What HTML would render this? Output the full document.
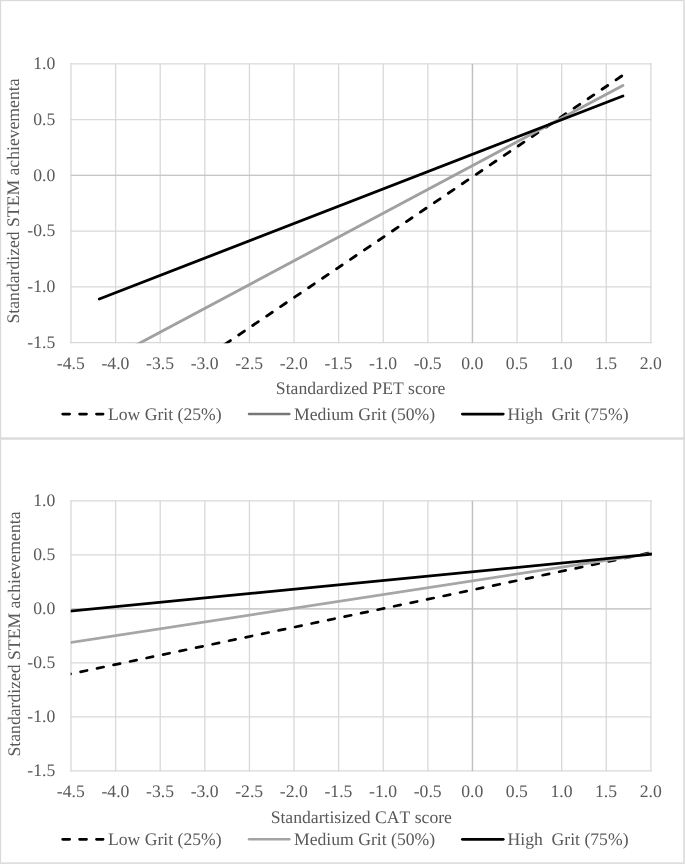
<!DOCTYPE html>
<html><head><meta charset="utf-8"><title>Grit moderation charts</title>
<style>
html,body{margin:0;padding:0;background:#fff;}
svg{display:block;will-change:transform;filter:grayscale(1);}
text{font-family:"Liberation Serif", serif;font-size:17.65px;fill:#595959;text-rendering:geometricPrecision;font-kerning:none;}
</style></head><body>
<svg width="685" height="864" viewBox="0 0 685 864">
<defs>
<clipPath id="c1"><rect x="70.7" y="63.9" width="580.90" height="279.40"/></clipPath>
<clipPath id="c2"><rect x="70.7" y="500.9" width="581.20" height="270.60"/></clipPath>
</defs>
<rect x="0" y="0" width="685" height="864" fill="#fff"/>
<rect x="0" y="0" width="685" height="1.2" fill="#dadada"/>
<rect x="0" y="0" width="1.15" height="864" fill="#d9d9d9"/>
<rect x="683.1" y="0" width="1.9" height="864" fill="#e0e0e0"/>
<rect x="0" y="862.3" width="685" height="1.7" fill="#dedede"/>
<rect x="0" y="437.4" width="685" height="2.3" fill="#dadada"/>
<line x1="71.00" y1="63.90" x2="71.00" y2="342.70" stroke="#d9d9d9" stroke-width="1.3" stroke-linecap="square"/>
<line x1="115.61" y1="63.90" x2="115.61" y2="342.70" stroke="#d9d9d9" stroke-width="1.3" stroke-linecap="square"/>
<line x1="160.22" y1="63.90" x2="160.22" y2="342.70" stroke="#d9d9d9" stroke-width="1.3" stroke-linecap="square"/>
<line x1="204.82" y1="63.90" x2="204.82" y2="342.70" stroke="#d9d9d9" stroke-width="1.3" stroke-linecap="square"/>
<line x1="249.43" y1="63.90" x2="249.43" y2="342.70" stroke="#d9d9d9" stroke-width="1.3" stroke-linecap="square"/>
<line x1="294.04" y1="63.90" x2="294.04" y2="342.70" stroke="#d9d9d9" stroke-width="1.3" stroke-linecap="square"/>
<line x1="338.65" y1="63.90" x2="338.65" y2="342.70" stroke="#d9d9d9" stroke-width="1.3" stroke-linecap="square"/>
<line x1="383.25" y1="63.90" x2="383.25" y2="342.70" stroke="#d9d9d9" stroke-width="1.3" stroke-linecap="square"/>
<line x1="427.86" y1="63.90" x2="427.86" y2="342.70" stroke="#d9d9d9" stroke-width="1.3" stroke-linecap="square"/>
<line x1="472.47" y1="63.90" x2="472.47" y2="342.70" stroke="#d9d9d9" stroke-width="1.3" stroke-linecap="square"/>
<line x1="517.08" y1="63.90" x2="517.08" y2="342.70" stroke="#d9d9d9" stroke-width="1.3" stroke-linecap="square"/>
<line x1="561.68" y1="63.90" x2="561.68" y2="342.70" stroke="#d9d9d9" stroke-width="1.3" stroke-linecap="square"/>
<line x1="606.29" y1="63.90" x2="606.29" y2="342.70" stroke="#d9d9d9" stroke-width="1.3" stroke-linecap="square"/>
<line x1="650.90" y1="63.90" x2="650.90" y2="342.70" stroke="#d9d9d9" stroke-width="1.3" stroke-linecap="square"/>
<line x1="71.00" y1="63.90" x2="650.90" y2="63.90" stroke="#d9d9d9" stroke-width="1.3" stroke-linecap="square"/>
<line x1="71.00" y1="119.66" x2="650.90" y2="119.66" stroke="#d9d9d9" stroke-width="1.3" stroke-linecap="square"/>
<line x1="71.00" y1="175.42" x2="650.90" y2="175.42" stroke="#d9d9d9" stroke-width="1.3" stroke-linecap="square"/>
<line x1="71.00" y1="231.18" x2="650.90" y2="231.18" stroke="#d9d9d9" stroke-width="1.3" stroke-linecap="square"/>
<line x1="71.00" y1="286.94" x2="650.90" y2="286.94" stroke="#d9d9d9" stroke-width="1.3" stroke-linecap="square"/>
<line x1="71.00" y1="342.70" x2="650.90" y2="342.70" stroke="#d9d9d9" stroke-width="1.3" stroke-linecap="square"/>
<line x1="472.47" y1="63.90" x2="472.47" y2="342.70" stroke="#bfbfbf" stroke-width="1.3"/>
<line x1="71.00" y1="175.42" x2="650.90" y2="175.42" stroke="#c6c6c6" stroke-width="1.3"/>
<text x="55.30" y="69.00" text-anchor="end">1.0</text>
<text x="55.30" y="124.76" text-anchor="end">0.5</text>
<text x="55.30" y="180.52" text-anchor="end">0.0</text>
<text x="55.30" y="236.28" text-anchor="end">-0.5</text>
<text x="55.30" y="292.04" text-anchor="end">-1.0</text>
<text x="55.30" y="347.80" text-anchor="end">-1.5</text>
<text x="70.80" y="368.60" text-anchor="middle">-4.5</text>
<text x="115.41" y="368.60" text-anchor="middle">-4.0</text>
<text x="160.02" y="368.60" text-anchor="middle">-3.5</text>
<text x="204.62" y="368.60" text-anchor="middle">-3.0</text>
<text x="249.23" y="368.60" text-anchor="middle">-2.5</text>
<text x="293.84" y="368.60" text-anchor="middle">-2.0</text>
<text x="338.45" y="368.60" text-anchor="middle">-1.5</text>
<text x="383.05" y="368.60" text-anchor="middle">-1.0</text>
<text x="427.66" y="368.60" text-anchor="middle">-0.5</text>
<text x="472.27" y="368.60" text-anchor="middle">0.0</text>
<text x="516.88" y="368.60" text-anchor="middle">0.5</text>
<text x="561.48" y="368.60" text-anchor="middle">1.0</text>
<text x="606.09" y="368.60" text-anchor="middle">1.5</text>
<text x="650.70" y="368.60" text-anchor="middle">2.0</text>
<text x="360.60" y="394.10" text-anchor="middle">Standardized PET score</text>
<text transform="translate(19.25,201.00) rotate(-90)" text-anchor="middle">Standardized STEM achievementa</text>
<g clip-path="url(#c1)" fill="none" stroke-width="2.85" stroke-linecap="round">
<path d="M621.72 76.00L210.83 353.80" stroke="#000" stroke-dasharray="6.85 10.02"/>
<path d="M122.25 352.41L622.90 85.40" stroke="#a0a0a0"/>
<path d="M99.30 299.00L622.90 96.00" stroke="#000"/>
</g>
<path d="M62.75 414.1H103.00" stroke="#000" stroke-width="2.9" stroke-linecap="round" stroke-dasharray="6.80 10.10" fill="none"/>
<text x="108.0" y="420.4">Low Grit (25%)</text>
<path d="M249 414.1H289.3" stroke="#777777" stroke-width="2.50" stroke-linecap="round" fill="none"/>
<text x="294.0" y="420.4">Medium Grit (50%)</text>
<path d="M462.4 414.1H503.2" stroke="#000" stroke-width="2.9" stroke-linecap="round" fill="none"/>
<text x="507.5" y="420.4" xml:space="preserve">High  Grit (75%)</text>
<line x1="71.00" y1="500.90" x2="71.00" y2="770.90" stroke="#d9d9d9" stroke-width="1.3" stroke-linecap="square"/>
<line x1="115.61" y1="500.90" x2="115.61" y2="770.90" stroke="#d9d9d9" stroke-width="1.3" stroke-linecap="square"/>
<line x1="160.22" y1="500.90" x2="160.22" y2="770.90" stroke="#d9d9d9" stroke-width="1.3" stroke-linecap="square"/>
<line x1="204.82" y1="500.90" x2="204.82" y2="770.90" stroke="#d9d9d9" stroke-width="1.3" stroke-linecap="square"/>
<line x1="249.43" y1="500.90" x2="249.43" y2="770.90" stroke="#d9d9d9" stroke-width="1.3" stroke-linecap="square"/>
<line x1="294.04" y1="500.90" x2="294.04" y2="770.90" stroke="#d9d9d9" stroke-width="1.3" stroke-linecap="square"/>
<line x1="338.65" y1="500.90" x2="338.65" y2="770.90" stroke="#d9d9d9" stroke-width="1.3" stroke-linecap="square"/>
<line x1="383.25" y1="500.90" x2="383.25" y2="770.90" stroke="#d9d9d9" stroke-width="1.3" stroke-linecap="square"/>
<line x1="427.86" y1="500.90" x2="427.86" y2="770.90" stroke="#d9d9d9" stroke-width="1.3" stroke-linecap="square"/>
<line x1="472.47" y1="500.90" x2="472.47" y2="770.90" stroke="#d9d9d9" stroke-width="1.3" stroke-linecap="square"/>
<line x1="517.08" y1="500.90" x2="517.08" y2="770.90" stroke="#d9d9d9" stroke-width="1.3" stroke-linecap="square"/>
<line x1="561.68" y1="500.90" x2="561.68" y2="770.90" stroke="#d9d9d9" stroke-width="1.3" stroke-linecap="square"/>
<line x1="606.29" y1="500.90" x2="606.29" y2="770.90" stroke="#d9d9d9" stroke-width="1.3" stroke-linecap="square"/>
<line x1="650.90" y1="500.90" x2="650.90" y2="770.90" stroke="#d9d9d9" stroke-width="1.3" stroke-linecap="square"/>
<line x1="71.00" y1="500.90" x2="650.90" y2="500.90" stroke="#d9d9d9" stroke-width="1.3" stroke-linecap="square"/>
<line x1="71.00" y1="554.90" x2="650.90" y2="554.90" stroke="#d9d9d9" stroke-width="1.3" stroke-linecap="square"/>
<line x1="71.00" y1="608.90" x2="650.90" y2="608.90" stroke="#d9d9d9" stroke-width="1.3" stroke-linecap="square"/>
<line x1="71.00" y1="662.90" x2="650.90" y2="662.90" stroke="#d9d9d9" stroke-width="1.3" stroke-linecap="square"/>
<line x1="71.00" y1="716.90" x2="650.90" y2="716.90" stroke="#d9d9d9" stroke-width="1.3" stroke-linecap="square"/>
<line x1="71.00" y1="770.90" x2="650.90" y2="770.90" stroke="#d9d9d9" stroke-width="1.3" stroke-linecap="square"/>
<line x1="472.47" y1="500.90" x2="472.47" y2="770.90" stroke="#bfbfbf" stroke-width="1.3"/>
<line x1="71.00" y1="608.90" x2="650.90" y2="608.90" stroke="#c6c6c6" stroke-width="1.3"/>
<text x="55.30" y="505.50" text-anchor="end">1.0</text>
<text x="55.30" y="559.50" text-anchor="end">0.5</text>
<text x="55.30" y="613.50" text-anchor="end">0.0</text>
<text x="55.30" y="667.50" text-anchor="end">-0.5</text>
<text x="55.30" y="721.50" text-anchor="end">-1.0</text>
<text x="55.30" y="775.50" text-anchor="end">-1.5</text>
<text x="70.80" y="796.80" text-anchor="middle">-4.5</text>
<text x="115.41" y="796.80" text-anchor="middle">-4.0</text>
<text x="160.02" y="796.80" text-anchor="middle">-3.5</text>
<text x="204.62" y="796.80" text-anchor="middle">-3.0</text>
<text x="249.23" y="796.80" text-anchor="middle">-2.5</text>
<text x="293.84" y="796.80" text-anchor="middle">-2.0</text>
<text x="338.45" y="796.80" text-anchor="middle">-1.5</text>
<text x="383.05" y="796.80" text-anchor="middle">-1.0</text>
<text x="427.66" y="796.80" text-anchor="middle">-0.5</text>
<text x="472.27" y="796.80" text-anchor="middle">0.0</text>
<text x="516.88" y="796.80" text-anchor="middle">0.5</text>
<text x="561.48" y="796.80" text-anchor="middle">1.0</text>
<text x="606.09" y="796.80" text-anchor="middle">1.5</text>
<text x="650.70" y="796.80" text-anchor="middle">2.0</text>
<text x="361.30" y="822.60" text-anchor="middle">Standartisized CAT score</text>
<text transform="translate(19.60,634.00) rotate(-90)" text-anchor="middle">Standardized STEM achievementa</text>
<g clip-path="url(#c2)" fill="none" stroke-width="2.7" stroke-linecap="round">
<path d="M64.02 675.28L670.00 548.63" stroke="#000" stroke-dasharray="6.70 10.16"/>
<path d="M50.00 645.74L670.00 550.58" stroke="#a6a6a6"/>
<path d="M50.00 613.06L670.00 552.44" stroke="#000"/>
</g>
<path d="M62.70 839.3H103.05" stroke="#000" stroke-width="2.8" stroke-linecap="round" stroke-dasharray="6.90 10.00" fill="none"/>
<text x="108.0" y="844.8">Low Grit (25%)</text>
<path d="M249 839.3H289.3" stroke="#a3a3a3" stroke-width="2.40" stroke-linecap="round" fill="none"/>
<text x="294.0" y="844.8">Medium Grit (50%)</text>
<path d="M462.4 839.3H503.2" stroke="#000" stroke-width="2.8" stroke-linecap="round" fill="none"/>
<text x="507.5" y="844.8" xml:space="preserve">High  Grit (75%)</text>
</svg>
</body></html>
